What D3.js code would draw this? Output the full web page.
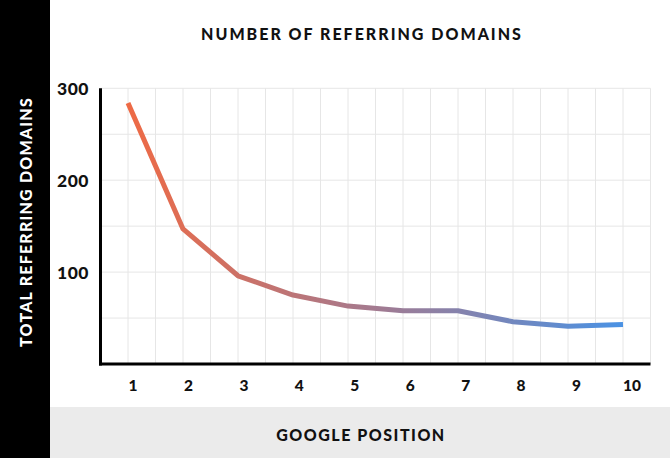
<!DOCTYPE html>
<html>
<head>
<meta charset="utf-8">
<script src="https://cdn.jsdelivr.net/npm/d3@7"></script>
<style>
  html, body { margin: 0; padding: 0; background: #fff; }
  svg { display: block; }
  text { font-family: Lato, "Open Sans", sans-serif; font-weight: 900; fill: #111; }
</style>
</head>
<body>
<svg id="chart" width="670" height="458"></svg>
<script>
const positions = [1, 2, 3, 4, 5, 6, 7, 8, 9, 10];
const referringDomains = [284, 147, 96, 75, 63, 58, 58, 46, 41, 43];
const yTickValues = [100, 200, 300];
const yGridValues = [50, 100, 150, 200, 250, 300];
const xGridValues = d3.range(0.5, 10.51, 0.5);
const titleText = "NUMBER OF REFERRING DOMAINS";
const yAxisTitle = "TOTAL REFERRING DOMAINS";
const xAxisTitle = "GOOGLE POSITION";

const W = 670, H = 458;
const svg = d3.select("#chart");

const x = d3.scaleLinear().domain([0.5, 10.5]).range([100.5, 650.5]);
const xLabel = d3.scaleLinear().domain([1, 10]).range([133, 632]);
const y = d3.scaleLinear().domain([0, 300]).range([364, 88.3]);

// left black band, bottom gray band
svg.append("rect").attr("x", 0).attr("y", 0).attr("width", 50).attr("height", H).attr("fill", "#000");
svg.append("rect").attr("x", 50).attr("y", 407).attr("width", W - 50).attr("height", H - 407).attr("fill", "#ebebeb");

// gradient
const defs = svg.append("defs");
const grad = defs.append("linearGradient").attr("id", "lineGrad")
  .attr("gradientUnits", "userSpaceOnUse")
  .attr("x1", x(1)).attr("x2", x(10)).attr("y1", 0).attr("y2", 0);
grad.append("stop").attr("offset", "0%").attr("stop-color", "#ee6a45");
grad.append("stop").attr("offset", "50%").attr("stop-color", "#a37a90");
grad.append("stop").attr("offset", "100%").attr("stop-color", "#4a92e4");

// grid
const g = svg.append("g");
g.selectAll(".hg").data(yGridValues).join("line")
  .attr("x1", x(0.5)).attr("x2", x(10.5))
  .attr("y1", d => y(d)).attr("y2", d => y(d))
  .attr("stroke", "#e6e6e6").attr("stroke-width", 1);
g.selectAll(".vg").data(xGridValues).join("line")
  .attr("x1", d => x(d)).attr("x2", d => x(d))
  .attr("y1", y(300)).attr("y2", y(0))
  .attr("stroke", "#e6e6e6").attr("stroke-width", 1);

// axes lines
svg.append("line").attr("x1", x(0.5)).attr("x2", x(0.5)).attr("y1", y(300)).attr("y2", y(0) + 1.5)
  .attr("stroke", "#000").attr("stroke-width", 3);
svg.append("line").attr("x1", x(0.5) - 1.5).attr("x2", x(10.5)).attr("y1", y(0)).attr("y2", y(0))
  .attr("stroke", "#000").attr("stroke-width", 3);

// y tick labels
svg.selectAll(".yt").data(yTickValues).join("text")
  .attr("x", 89).attr("y", d => y(d))
  .attr("text-anchor", "end").attr("dominant-baseline", "central")
  .attr("font-size", 17.5).attr("letter-spacing", 0.5)
  .text(d => d);

// x tick labels
svg.selectAll(".xt").data(positions).join("text")
  .attr("x", d => xLabel(d)).attr("y", 385)
  .attr("text-anchor", "middle").attr("dominant-baseline", "central")
  .attr("font-size", 15.5)
  .text(d => d);

// line
const line = d3.line().x((d, i) => x(positions[i])).y(d => y(d));
svg.append("path").datum(referringDomains)
  .attr("d", line)
  .attr("fill", "none")
  .attr("stroke", "url(#lineGrad)")
  .attr("stroke-width", 5)
  .attr("stroke-linejoin", "round")
  .attr("stroke-linecap", "butt");

// titles
svg.append("text").attr("x", 362).attr("y", 33)
  .attr("text-anchor", "middle").attr("dominant-baseline", "central")
  .attr("font-size", 16).attr("letter-spacing", 2)
  .text(titleText);

svg.append("text").attr("x", 361).attr("y", 434)
  .attr("text-anchor", "middle").attr("dominant-baseline", "central")
  .attr("font-size", 16).attr("letter-spacing", 1.5)
  .text(xAxisTitle);

svg.append("text")
  .attr("transform", "translate(25,222) rotate(-90)")
  .attr("text-anchor", "middle").attr("dominant-baseline", "central")
  .attr("font-size", 16).attr("letter-spacing", 1.2)
  .style("fill", "#fff")
  .text(yAxisTitle);
</script>
</body>
</html>
